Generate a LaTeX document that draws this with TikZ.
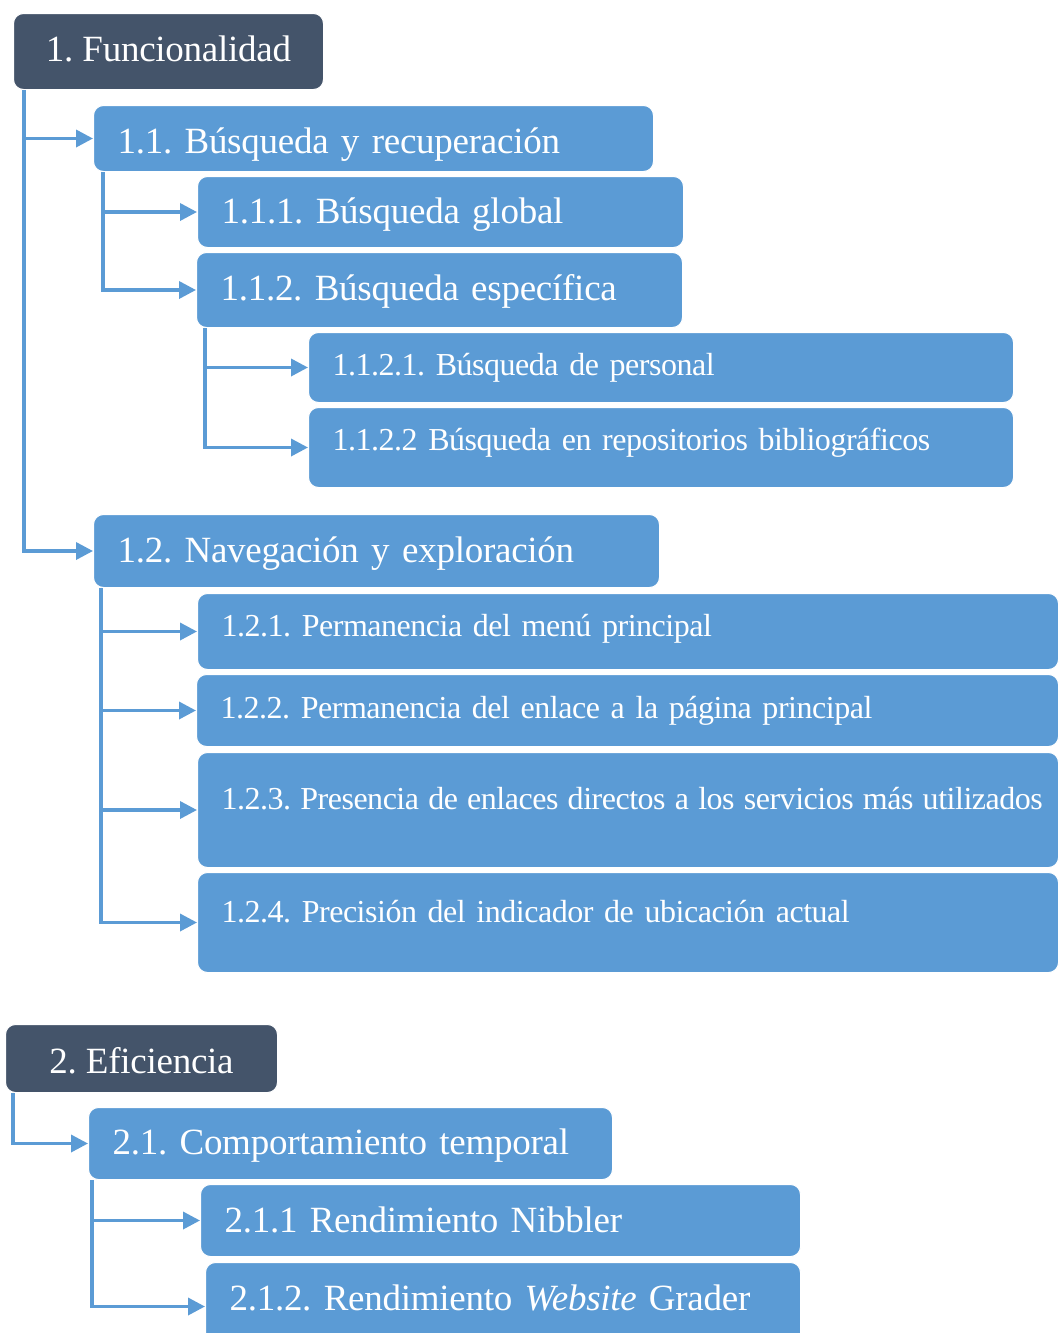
\documentclass[tikz,border=0pt]{standalone}
\usepackage{fontspec}
\setmainfont{Liberation Serif}
\usetikzlibrary{arrows.meta}
\definecolor{cajaazul}{HTML}{5B9BD5}
\definecolor{cajagris}{HTML}{44546A}
\begin{document}
\frenchspacing
\begin{tikzpicture}[x=1pt,y=-1pt]
\tikzstyle{mybox} = [draw=white, line width=1pt, rounded corners=10pt, fill=cajaazul, text=white, anchor=north west, inner xsep=24pt, inner ysep=0pt, align=left]
\tikzstyle{myhead} = [mybox, fill=cajagris, align=center, inner xsep=0pt]
\tikzstyle{mybig} = [font=\addfontfeatures{LetterSpace=-0.7}\fontsize{37}{42}\selectfont\frenchspacing]
\tikzstyle{mysmall} = [font=\addfontfeatures{LetterSpace=-1.5}\fontsize{32}{38}\selectfont\frenchspacing]
\tikzstyle{myarrow} = [draw=cajaazul, line width=3.5pt, -{Triangle[length=17pt,width=17pt]}]
\clip (0,0) rectangle (1059,1333);
\fill[white] (0,0) rectangle (1059,1333);

% 1. Funcionalidad
\node[myhead, mybig, minimum width=310pt, text height=48pt, text depth=28pt] (func) at (13,13) {1. Funcionalidad};
\node[mybox, mybig, text width=512pt, text height=48pt, text depth=18pt] (b11) at (93,105) {1.1. Búsqueda y recuperación};
\node[mybox, mybig, text width=438pt, text height=47pt, text depth=24pt] (b111) at (197,176) {1.1.1. Búsqueda global};
\node[mybox, mybig, text width=438pt, text height=48pt, text depth=27pt] (b112) at (196,252) {1.1.2. Búsqueda específica};
\node[mybox, mysmall, text width=657pt, text height=43pt, text depth=27pt] (b1121) at (308,332) {1.1.2.1. Búsqueda de personal};
\node[mybox, mysmall, text width=657pt, text height=43pt, text depth=37pt] (b1122) at (308,407) {1.1.2.2 Búsqueda en repositorios bibliográficos};
\node[mybox, mybig, text width=518pt, text height=48pt, text depth=25pt] (b12) at (93,514) {1.2. Navegación y exploración};
\node[mybox, mysmall, text width=813pt, text height=43pt, text depth=33pt] (b121) at (197,593) {1.2.1. Permanencia del menú principal};
\node[mybox, mysmall, text width=814pt, text height=44pt, text depth=28pt] (b122) at (196,674) {1.2.2. Permanencia del enlace a la página principal};
\node[mybox, mysmall, text width=813pt, text height=57pt, text depth=58pt] (b123) at (197,752) {\setlength{\spaceskip}{9.2pt}\mbox{1.2.3. Presencia de enlaces directos a los servicios más utilizados}};
\node[mybox, mysmall, text width=813pt, text height=50pt, text depth=50pt] (b124) at (197,872) {1.2.4. Precisión del indicador de ubicación actual};

% 2. Eficiencia
\node[myhead, mybig, minimum width=272pt, text height=49pt, text depth=19pt] (efi) at (5,1024) {2. Eficiencia};
\node[mybox, mybig, text width=476pt, text height=47pt, text depth=25pt] (b21) at (88,1107) {2.1. Comportamiento temporal};
\node[mybox, mybig, text width=552pt, text height=48pt, text depth=24pt] (b211) at (200,1184) {2.1.1 Rendimiento Nibbler};
\node[mybox, mybig, text width=547pt, text height=48pt, text depth=40pt] (b212) at (205,1262) {2.1.2. Rendimiento \textit{Website} Grader};

% conectores
\draw[myarrow] ([xshift=11pt]func.south west) |- (b11.west);
\draw[myarrow] ([xshift=11pt]func.south west) |- (b12.west);
\draw[myarrow] ([xshift=10pt]b11.south west) |- (b111.west);
\draw[myarrow] ([xshift=10pt]b11.south west) |- (b112.west);
\draw[myarrow] ([xshift=9pt]b112.south west) |- (b1121.west);
\draw[myarrow] ([xshift=9pt]b112.south west) |- (b1122.west);
\foreach \n in {b121,b122,b123,b124}
  \draw[myarrow] ([xshift=8pt]b12.south west) |- (\n.west);
\draw[myarrow] ([xshift=8pt]efi.south west) |- (b21.west);
\foreach \n in {b211,b212}
  \draw[myarrow] ([xshift=4pt]b21.south west) |- (\n.west);
\end{tikzpicture}
\end{document}
